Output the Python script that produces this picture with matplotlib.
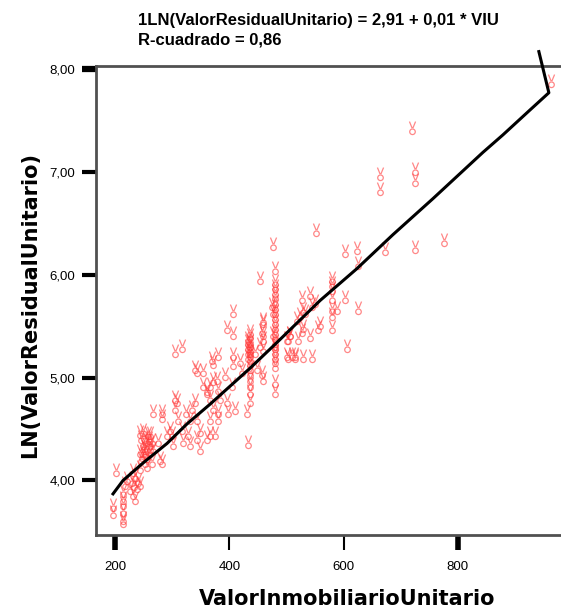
import matplotlib
matplotlib.use('Agg')
import matplotlib.pyplot as plt
from matplotlib.path import Path
import numpy as np

plt.rcParams['font.family'] = ['Liberation Sans', 'DejaVu Sans']

# scatter data
viu = [196.5, 196.5, 201.75, 214, 214, 214, 214, 214, 214,
       217.5, 229.75, 231.5, 235, 238.5, 240, 243.75, 231.5, 235,
       243.75, 245.5, 249, 249, 252.5, 252.5, 256, 256, 257.75, 261.25,
       261.25, 264.75, 264.75, 266.5, 245.5, 249, 256, 243.75, 252.5, 261.25,
       243.75, 266.5, 282, 282, 278.75, 282,
       275, 291, 296, 301.5, 300, 305, 308.5, 305, 310, 305, 317,
       317, 319, 331, 327.75, 324, 334.75, 340, 331,
       343.5, 349, 343.5, 349, 361, 366, 375, 340, 354, 343.5,
       354, 361, 366, 371.5, 378.5, 380, 370, 380, 371.5,
       361, 366, 371.5, 380, 366, 380, 384, 396, 398, 410,
       392.5, 405, 406.5, 406.5, 396, 406.5, 406.5, 419, 422, 431, 432.75,
       436, 436, 436, 436, 436, 436, 436, 436, 436, 436, 436, 436, 436, 436, 436,
       433, 433, 433, 433, 433,
       445, 448.5, 459, 459, 459, 457, 459,
       475, 476.5, 476.5, 480,
       480, 480, 480, 480, 480, 480, 480, 480, 480, 480, 480, 480, 480, 480,
       480, 480, 480, 480, 480, 480,
       476.5, 480, 454, 459, 457, 459, 454,
       501, 515, 501, 506, 510, 524, 518.5, 532.5,
       527, 541, 529, 545, 550,
       580, 580, 580, 580, 580, 580, 580, 588.5,
       602.5, 623.5, 625, 625,
       503, 506, 527, 520, 529, 541, 555, 559,
       503, 515, 529, 545, 606,
       552, 602.5, 664, 664, 725, 725, 720, 672.5, 725, 776, 963,
       250, 254, 259, 247, 262, 226, 221, 233]
ln_vru = [3.76, 3.69, 4.10, 3.90, 3.83, 3.78, 3.71, 3.64, 3.61,
          3.98, 4.00, 3.88, 3.83, 3.95, 4.00, 3.98, 4.10, 4.05,
          4.13, 4.22, 4.29, 4.36, 4.42, 4.32, 4.39, 4.24, 4.46, 4.36,
          4.29, 4.39, 4.19, 4.32, 4.42, 4.49, 4.15, 4.29, 4.19, 4.46,
          4.47, 4.68, 4.68, 4.63, 4.22, 4.19,
          4.39, 4.46, 4.51, 4.36, 4.46, 4.81, 4.78, 4.71, 4.61, 5.26, 5.31,
          4.51, 4.39, 4.36, 4.46, 4.68, 4.71, 4.78, 4.61,
          4.61, 4.49, 4.42, 4.32, 4.42, 4.46, 4.46, 5.10, 5.07, 5.07,
          4.94, 4.89, 4.94, 4.99, 5.00, 4.90, 5.19, 5.23, 5.15,
          4.87, 4.81, 4.71, 4.68, 4.61, 4.61, 4.81, 4.78, 4.68, 4.70,
          5.04, 4.94, 5.23, 5.14, 5.49, 5.43, 5.65, 5.17, 5.07, 4.68, 4.37,
          5.41, 5.36, 5.33, 5.29, 5.26, 5.23, 5.19, 5.15, 5.10, 5.05, 5.00, 4.94,
          4.87, 4.78, 5.45,
          5.39, 5.36, 5.31, 5.26, 5.21,
          5.26, 5.10, 5.55, 5.43, 5.29, 5.05, 5.00,
          5.72, 5.65, 5.43, 5.33,
          5.75, 5.70, 5.65, 5.60, 5.55, 5.50, 5.45, 5.40, 5.36, 5.31, 5.26, 5.21,
          5.17, 5.12, 4.97, 4.87, 5.94, 5.89, 5.84, 5.80,
          6.30, 6.07, 5.97, 5.57, 5.46, 5.39, 5.33,
          5.39, 5.23, 5.23, 5.43, 5.23, 5.62, 5.58, 5.65,
          5.78, 5.82, 5.67, 5.72, 5.75,
          5.97, 5.92, 5.87, 5.78, 5.68, 5.62, 5.49, 5.68,
          5.78, 6.26, 5.68, 6.11,
          5.39, 5.43, 5.46, 5.39, 5.50, 5.41, 5.49, 5.53,
          5.21, 5.21, 5.21, 5.21, 5.31,
          6.44, 6.23, 6.98, 6.83, 7.03, 6.92, 7.43, 6.25, 6.27, 6.34, 7.88,
          4.34, 4.27, 4.41, 4.25, 4.33, 3.93, 4.02, 3.97]

# fitted line as drawn
fit_x = [196.5, 214, 249, 291, 326, 366, 436, 485, 559, 623.5, 686.5, 756.5,
         844, 879, 926, 959.5, 942]
fit_y = [3.87, 4.00, 4.17, 4.36, 4.55, 4.74, 5.09, 5.35, 5.75, 6.06, 6.39, 6.74,
         7.19, 7.36, 7.60, 7.77, 8.17]

xticks = [200, 400, 600, 800]
xtick_labels = ['200', '400', '600', '800']
yticks = [4, 5, 6, 7, 8]
ytick_labels = ['4,00', '5,00', '6,00', '7,00', '8,00']

# marker: two "ears" and a small ring
ring = Path.circle((0, -0.45), 0.38)
ears = Path([(-0.42, 0.95), (-0.05, 0.05), (0.42, 0.95), (0.05, 0.05)],
            [Path.MOVETO, Path.LINETO, Path.MOVETO, Path.LINETO])
mark = Path.make_compound_path(ears, ring)

fig = plt.figure(figsize=(5.61, 6.13), dpi=100)
ax = fig.add_axes([96/561, 78/613, 476/561, 469/613])

ax.plot(viu, ln_vru, ls='', marker=mark, ms=10, mfc='none',
        mec=(1.0, 0.22, 0.22, 0.6), mew=0.9)
ax.plot(fit_x, fit_y, color='black', lw=2.2, clip_on=False, zorder=5)

ax.set_xlim(166.7, 1000)
ax.set_ylim(3.47, 8.03)
ax.set_xticks(xticks)
ax.set_xticklabels(xtick_labels, fontsize=9.5)
ax.set_yticks(yticks)
ax.set_yticklabels(ytick_labels, fontsize=9.5)
ax.tick_params(axis='x', length=11, width=1.5, pad=8, color='black')
ax.tick_params(axis='y', length=10, width=3, pad=5, color='black')
for i, t in enumerate(ax.xaxis.get_major_ticks()):
    if i in (0, 3):
        t.tick1line.set_markeredgewidth(4)
ax.yaxis.get_major_ticks()[-1].tick1line.set_markeredgewidth(4.5)

for s in ['left', 'bottom', 'top', 'right']:
    ax.spines[s].set_color('#505050')
    ax.spines[s].set_linewidth(2)

fig.text(138/561, 1 - 20/613, '1LN(ValorResidualUnitario) = 2,91 + 0,01 * VIU',
         fontsize=12, fontweight='bold', va='center', ha='left')
fig.text(138/561, 1 - 40/613, 'R-cuadrado = 0,86',
         fontsize=12, fontweight='bold', va='center', ha='left')
fig.text(30/561, 1 - 305/613, 'LN(ValorResidualUnitario)', rotation=90,
         fontsize=15, fontweight='bold', va='center', ha='center',
         family='DejaVu Sans')
fig.text(347/561, 1 - 599/613, 'ValorInmobiliarioUnitario',
         fontsize=15, fontweight='bold', va='center', ha='center',
         family='DejaVu Sans')

fig.savefig('out.png', dpi=100)
